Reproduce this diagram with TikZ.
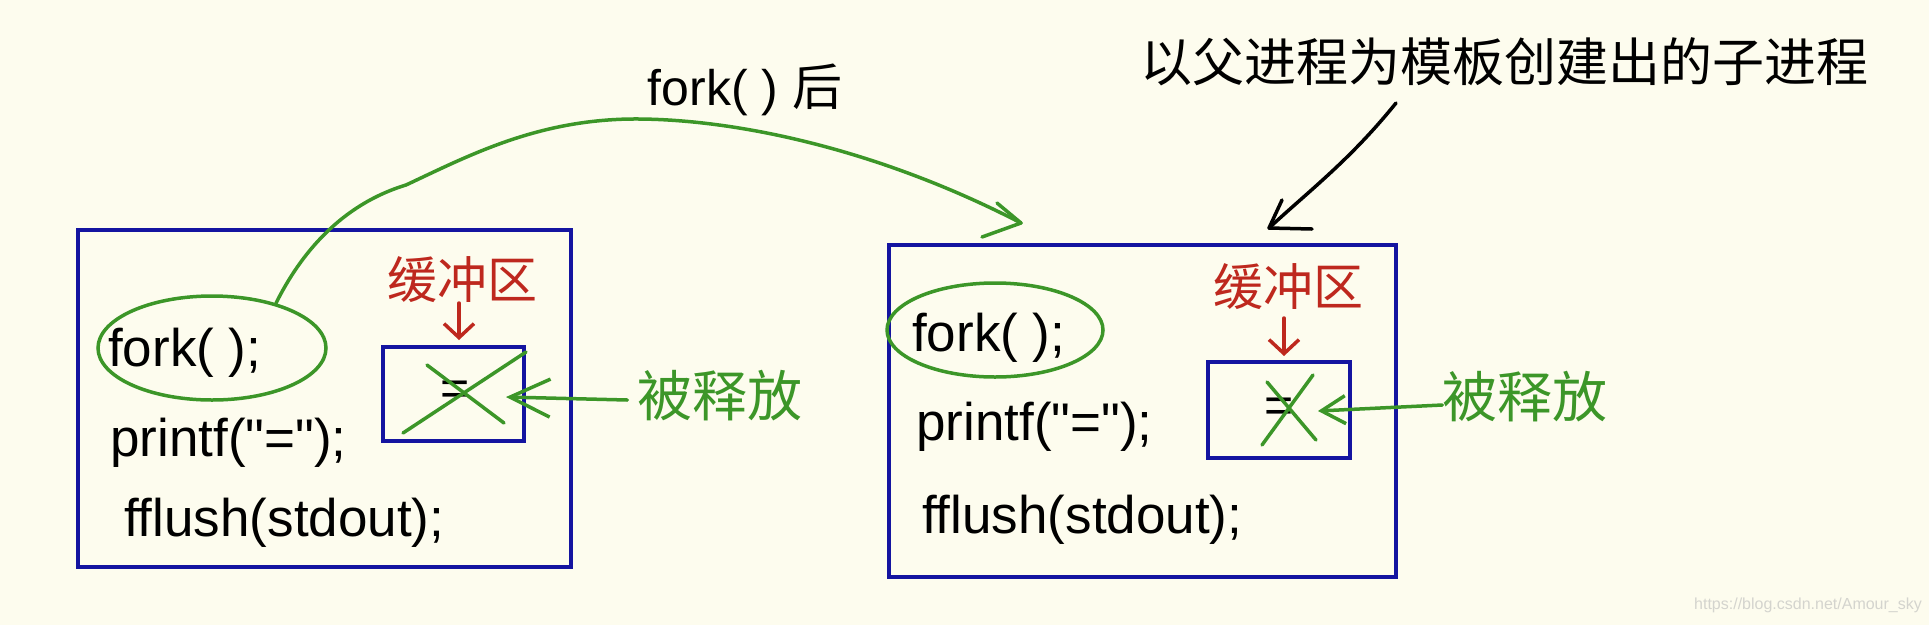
\documentclass[tikz,border=0pt]{standalone}
\usepackage{fontspec}
\setmainfont{Liberation Sans}[Ligatures=TeXOff]
\newfontfamily\cjk{Noto Sans CJK SC}
\usetikzlibrary{arrows.meta,shapes.geometric}
\definecolor{bg}{HTML}{FDFCEE}
\definecolor{boxblue}{RGB}{20,20,160}
\definecolor{pengreen}{RGB}{60,150,40}
\definecolor{penred}{RGB}{190,40,30}
\definecolor{wmgray}{RGB}{212,212,206}
\tikzset{
  bluebox/.style={draw=boxblue, line width=4pt, inner sep=0pt},
  codetext/.style={anchor=west, inner sep=0pt, font=\fontsize{53}{60}\selectfont},
  buftext/.style={inner sep=0pt, text=penred, font=\cjk\fontsize{50}{60}\selectfont},
  reltext/.style={inner sep=0pt, text=pengreen, font=\cjk\fontsize{55}{60}\selectfont},
  ring/.style={ellipse, draw=pengreen, line width=3.5pt, inner sep=0pt},
  greenpen/.style={draw=pengreen, line width=3.5pt, line cap=round, line join=round},
  redpen/.style={draw=penred, line width=3.5pt, line cap=round, line join=round},
  blackpen/.style={draw=black, line width=3.5pt, line cap=round, line join=round},
  eqtext/.style={inner sep=0pt, font=\fontsize{50}{60}\selectfont},
}
\begin{document}
\begin{tikzpicture}[x=1pt,y=-1pt]
\fill[bg] (0,0) rectangle (1929,625);
\useasboundingbox (0,0) rectangle (1929,625);

% ---------- left (parent) process ----------
\node[bluebox, minimum width=493pt, minimum height=337pt] (boxL) at (324.5,398.5) {};
\node[bluebox, minimum width=141pt, minimum height=94pt] (bufboxL) at (453.5,394) {};
\node[codetext] (forkL) at (108,353) {fork( );};
\node[codetext] (printfL) at (110,443) {printf("=");};
\node[codetext] (flushL) at (124,523) {fflush(stdout);};
\node[ring, minimum width=228pt, minimum height=104pt] (ringL) at (212,348) {};
\node[buftext] (bufL) at (462,280) {缓冲区};
\node[eqtext] (eqL) at (455,393) {=};
\node[reltext] (relL) at (720,396) {被释放};
\coordinate (relTipL) at (506,397);

\draw[redpen, -{Straight Barb[length=14pt,width=30pt]}] (459,303) -- (459,340);
\draw[greenpen] (403,433) -- (526,352);
\draw[greenpen] (427,365) -- (504,423);
\draw[greenpen, -{Straight Barb[length=40pt,width=38pt]}] (relL.west) ++(-10,4) -- (relTipL);

% ---------- right (child) process ----------
\node[bluebox, minimum width=507pt, minimum height=332pt] (boxR) at (1142.5,411) {};
\node[bluebox, minimum width=142pt, minimum height=96pt] (bufboxR) at (1279,410) {};
\node[codetext] (forkR) at (912,338) {fork( );};
\node[codetext] (printfR) at (916,427) {printf("=");};
\node[codetext] (flushR) at (922,520) {fflush(stdout);};
\node[ring, minimum width=216pt, minimum height=94pt] (ringR) at (995,330) {};
\node[buftext] (bufR) at (1288,287) {缓冲区};
\node[eqtext] (eqR) at (1279,410) {=};
\node[reltext] (relR) at (1525,397) {被释放};
\coordinate (relTipR) at (1318,411);

\draw[redpen, -{Straight Barb[length=14pt,width=30pt]}] (1284,318) -- (1284,356);
\draw[greenpen] (1262,445) -- (1313,375);
\draw[greenpen] (1267,382) -- (1316,440);
\draw[greenpen, -{Straight Barb[length=24pt,width=28pt]}] (relR.west) ++(0,8) -- (relTipR);

% ---------- fork() arrow ----------
\node[inner sep=0pt, font=\fontsize{50}{60}\selectfont] (forkLabel) at (745,90) {fork( ) {\cjk 后}};
\coordinate (forkTip) at (1021,223);
\draw[greenpen] (ringL.35) .. controls (300,255) and (340,205) .. (406,185)
  .. controls (470,155) and (540,118) .. (640,119)
  .. controls (740,120) and (880,150) .. (forkTip);
\draw[greenpen] (forkTip) -- ++(-24,-20);
\draw[greenpen] (forkTip) -- ++(-39,14);

% ---------- template note ----------
\node[inner sep=0pt, font=\cjk\fontsize{52}{60}\selectfont] (tmpl) at (1504,62) {以父进程为模板创建出的子进程};
\coordinate (tmplStart) at (1396,103);
\coordinate (tmplTip) at (1269,228);
\draw[blackpen] (tmplStart) .. controls (1350,160) and (1310,190) .. (tmplTip);
\draw[blackpen] (tmplTip) -- (1282,200);
\draw[blackpen] (tmplTip) -- (1312,229);

% ---------- watermark ----------
\node[inner sep=0pt, text=wmgray, font=\fontsize{16}{18}\selectfont] (wm) at (1808,605) {https://blog.csdn.net/Amour\_sky};
\end{tikzpicture}
\end{document}
